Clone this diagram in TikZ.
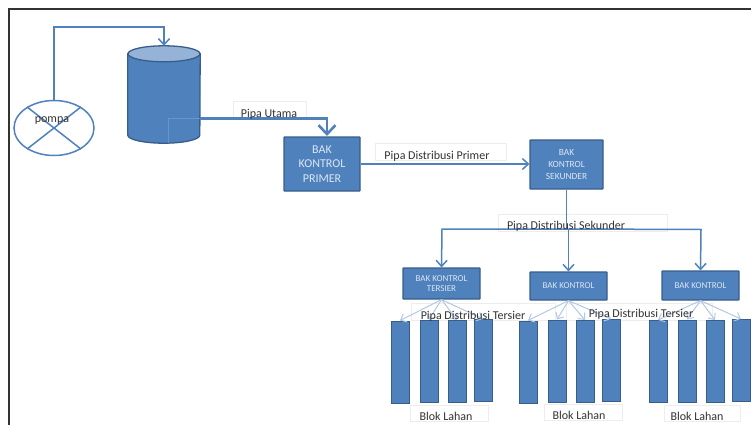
\documentclass[tikz,border=0pt]{standalone}
\usepackage{fontspec}
\setmainfont{Carlito}
\usetikzlibrary{arrows.meta,shapes.geometric}
\definecolor{pipe-blue}{HTML}{4F81BD}
\definecolor{edge-blue}{HTML}{385D8A}
\definecolor{top-blue}{HTML}{95B3D7}
\definecolor{fan-blue}{HTML}{B4C8E1}
\definecolor{label-edge}{HTML}{EDEDED}
\definecolor{bak-text}{HTML}{DCE6F2}
\definecolor{label-text}{HTML}{333333}
\tikzset{
    bak-box/.style = {draw=edge-blue, fill=pipe-blue, line width=1.2pt, rectangle, rounded corners=0.5pt, inner sep=0pt, align=center, text=bak-text},
    blok-box/.style = {draw=edge-blue, fill=pipe-blue, line width=1pt, rectangle, inner sep=0pt, minimum width=18pt, minimum height=82pt},
    label-box/.style = {draw=label-edge, fill=white, line width=0.8pt, rectangle, inner sep=0pt},
    label-text/.style = {text=label-text, font=\fontsize{12}{12}\selectfont, inner sep=0pt},
    tank-wall/.style = {draw=edge-blue, line width=1.3pt},
    pipe/.style = {draw=pipe-blue, line width=1.5pt, -{Straight Barb[length=6pt,width=11pt]}},
    pipe-plain/.style = {draw=pipe-blue, line width=1.5pt},
    pipe-main/.style = {draw=pipe-blue, line width=2.6pt, -{Straight Barb[length=9pt,width=17pt]}},
    pipe-fan/.style = {draw=fan-blue, line width=1pt, -{Straight Barb[length=5pt,width=9pt]}},
}

\begin{document}
\begin{tikzpicture}[x=1pt,y=-1pt]
\useasboundingbox (0,0) rectangle (751,425);
\coordinate (frame-a) at (9,425);
\coordinate (frame-b) at (9,9);
\coordinate (frame-c) at (751,9);
\draw[black!80, line width=1.2pt] (frame-a) -- (frame-b) -- (frame-c);

% white boxes behind the pipes
\node[label-box, minimum width=73pt, minimum height=17pt] (utama-box) at (269.5,110) {};
\node[label-box, minimum width=131pt, minimum height=17pt] (primer-box) at (440.5,152) {};
\node[label-box, minimum width=169pt, minimum height=17pt] (sekunder-box) at (582.5,222.5) {};
\node[label-box, minimum width=144pt, minimum height=17pt] (tersier-box-a) at (483,312) {};
\node[label-box, minimum width=146pt, minimum height=17pt] (tersier-box-b) at (639,312) {};
\node[label-box, minimum width=78pt, minimum height=16pt] (lahan-box-a) at (449,413) {};
\node[label-box, minimum width=78pt, minimum height=16pt] (lahan-box-b) at (583,412) {};
\node[label-box, minimum width=76pt, minimum height=16pt] (lahan-box-c) at (702,413) {};

\node[draw=pipe-blue, fill=white, line width=1.5pt, ellipse, inner sep=0pt, minimum width=80pt, minimum height=55pt] (pompa) at (54,128) {};

% tank: body and lid on an empty node
\node[inner sep=0pt, minimum width=72pt, minimum height=97pt] (tangki) at (164,94.5) {};
\draw[tank-wall, fill=pipe-blue] ([yshift=-8pt]tangki.north west) -- ([yshift=8pt]tangki.south west)
    arc[start angle=180, end angle=360, x radius=36pt, y radius=8pt]
    -- ([yshift=-8pt]tangki.north east) -- cycle;
\draw[tank-wall, fill=top-blue] ([yshift=-8pt]tangki.north) ellipse[x radius=36pt, y radius=8pt];

\node[bak-box, minimum width=76pt, minimum height=54pt, font=\fontsize{12}{14.5}\selectfont] (primer) at (322,164) {BAK\\KONTROL\\PRIMER};
\node[bak-box, minimum width=73pt, minimum height=49pt, font=\fontsize{9.4}{12}\selectfont] (sekunder) at (566.5,164.5) {BAK\\KONTROL\\SEKUNDER};
\node[bak-box, minimum width=77pt, minimum height=31pt, font=\fontsize{9}{10.5}\selectfont] (tersier-a) at (441.5,283.5) {BAK KONTROL\\TERSIER};
\node[bak-box, minimum width=77pt, minimum height=28pt, font=\fontsize{9}{10.5}\selectfont] (tersier-b) at (568.5,286) {BAK KONTROL};
\node[bak-box, minimum width=77pt, minimum height=29pt, font=\fontsize{9}{10.5}\selectfont] (tersier-c) at (700.5,285.5) {BAK KONTROL};

% blocks of land, three groups of four
\foreach \name/\x/\y in {1/400/362,2/429/361,3/457/361.5,4/483/360.5,5/528/362,6/557/361,7/585/361.5,8/611/360.5,9/658/361.5,10/687/361,11/715/361.5,12/741/360.5}
    \node[blok-box] (blok-\name) at (\x,\y) {};

\foreach \i in {1,...,4}
    \draw[pipe-fan] (tersier-a.south) -- (blok-\i.north);
\foreach \i in {5,...,8}
    \draw[pipe-fan] (tersier-b.south) -- (blok-\i.north);
\foreach \i in {9,...,12}
    \draw[pipe-fan] (tersier-c.south) -- (blok-\i.north);

% pump cross and pipes
\draw[pipe-blue, line width=1.5pt] (pompa.142) -- (pompa.-38);
\draw[pipe-blue, line width=1.5pt] (pompa.38) -- (pompa.-142);
\coordinate (naik) at (54,27);
\draw[pipe] (pompa.north) -- (naik) -| (tangki.north);

\coordinate (tangki-dalam) at (168,143);
\coordinate (tangki-belok) at (168,118.5);
\coordinate (tangki-keluar) at (200,118.5);
\draw[pipe-blue!85!white, line width=1pt] (tangki-dalam) -- (tangki-belok) -- (tangki-keluar);
\coordinate (primer-masuk) at (327,136);
\draw[pipe-main] (tangki-keluar) -| (primer-masuk);
\draw[pipe] (primer.east) -- (primer.east -| sekunder.west);

\coordinate (cabang-a) at (442,229);
\coordinate (cabang-b) at (568.5,229);
\coordinate (cabang-c) at (701,229.5);
\draw[pipe-plain] (sekunder.south) -- (sekunder.south |- cabang-b);
\draw[pipe] (cabang-b) -- (tersier-b.north);
\draw[pipe] (cabang-b) -- (cabang-a) -- (tersier-a.north);
\draw[pipe] (cabang-b) -- (cabang-c) -- (tersier-c.north);

\node[label-text] (pompa-label) at (52,121) {pompa};
\node[label-text] (utama-label) at (269,114) {Pipa Utama};
\node[label-text] (primer-label) at (437,156) {Pipa Distribusi Primer};
\node[label-text] (sekunder-label) at (566,226) {Pipa Distribusi Sekunder};
\node[label-text] (tersier-label-a) at (473,316) {Pipa Distribusi Tersier};
\node[label-text] (tersier-label-b) at (641,314.5) {Pipa Distribusi Tersier};
\node[label-text] (lahan-label-a) at (446,416) {Blok Lahan};
\node[label-text] (lahan-label-b) at (579,415) {Blok Lahan};
\node[label-text] (lahan-label-c) at (697,416) {Blok Lahan};
\end{tikzpicture}
\end{document}
